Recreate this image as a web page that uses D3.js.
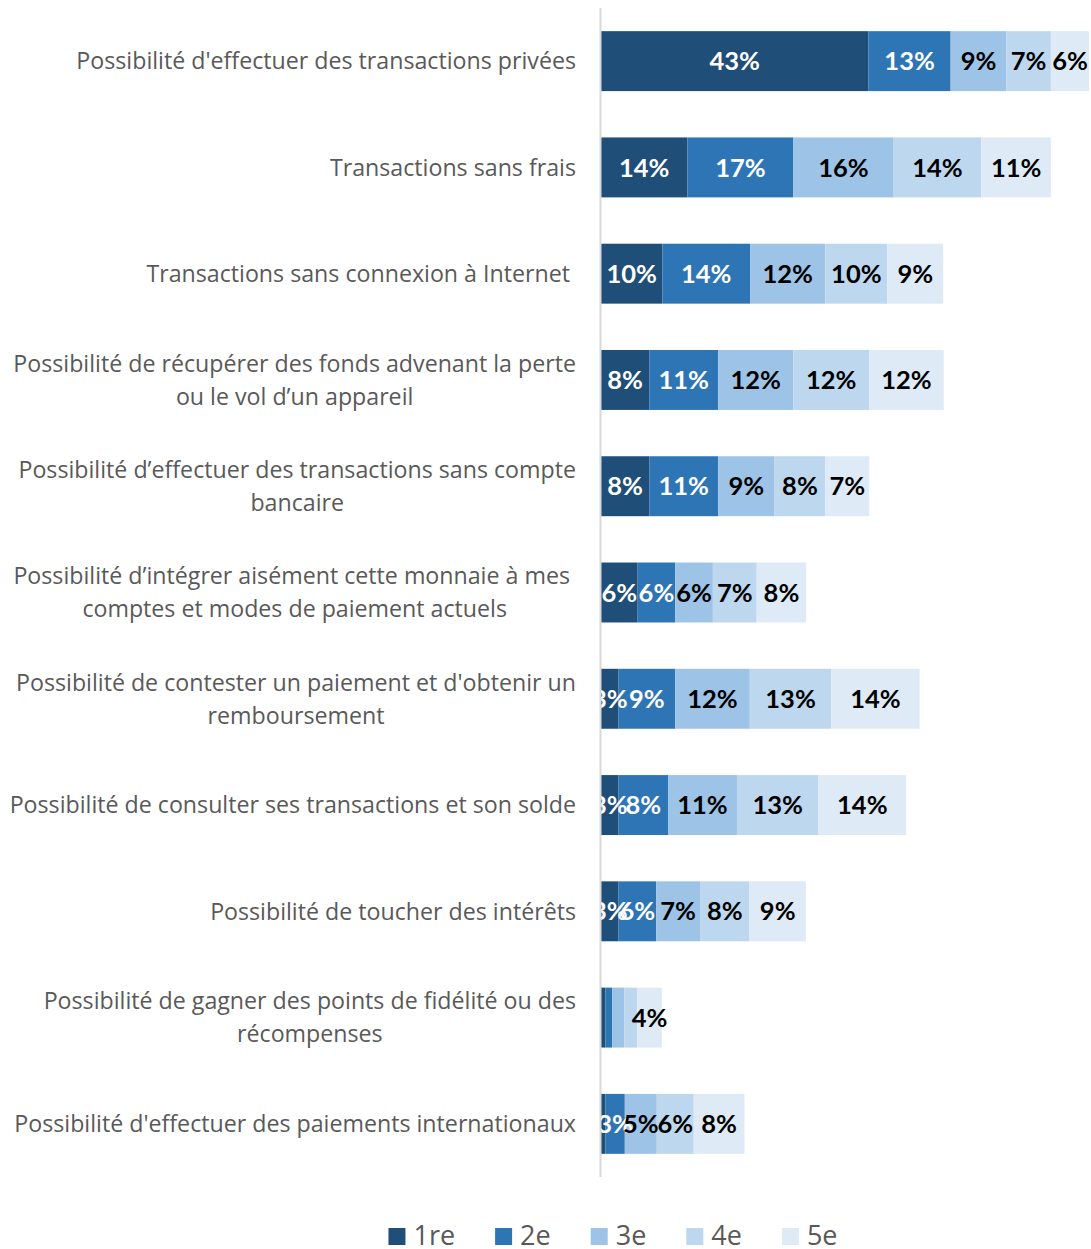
<!DOCTYPE html>
<html>
<head>
<meta charset="utf-8">
<script src="https://cdn.jsdelivr.net/npm/d3@7"></script>
<style>
  body { margin: 0; background: #fff; }
  svg { display: block; }
  text { white-space: pre; }
</style>
</head>
<body>
<div id="chart"></div>
<script>
var w = 1091;
var h = 1249;

// category labels, "\n" marks where the original wraps
var categories = [
	"Possibilité d'effectuer des transactions privées",
	"Transactions sans frais",
	"Transactions sans connexion à Internet ",
	"Possibilité de récupérer des fonds advenant la perte\nou le vol d’un appareil",
	"Possibilité d’effectuer des transactions sans compte\nbancaire",
	"Possibilité d’intégrer aisément cette monnaie à mes \ncomptes et modes de paiement actuels",
	"Possibilité de contester un paiement et d'obtenir un\nremboursement",
	"Possibilité de consulter ses transactions et son solde",
	"Possibilité de toucher des intérêts",
	"Possibilité de gagner des points de fidélité ou des\nrécompenses",
	"Possibilité d'effectuer des paiements internationaux"
];

var seriesNames = ["1re", "2e", "3e", "4e", "5e"];

// percentages
var rank1 = [42.7, 13.8, 9.8, 7.7, 7.7, 5.85, 2.8, 2.8, 2.8, 0.7, 0.7];
var rank2 = [13.1, 16.9, 14.0, 11.0, 11.0, 6.0, 9.05, 7.9, 6.0, 1.1, 3.1];
var rank3 = [8.9, 16.0, 12.0, 12.0, 9.0, 6.0, 11.9, 11.0, 7.0, 1.9, 5.1];
var rank4 = [7.1, 14.0, 9.9, 12.1, 8.1, 7.0, 13.0, 13.0, 7.9, 2.1, 5.9];
var rank5 = [6.1, 11.1, 8.9, 11.9, 7.0, 7.9, 14.1, 14.0, 9.0, 3.9, 8.1];

var colors = ["#1F4E79", "#2E75B6", "#9DC3E6", "#BDD7EE", "#DEEBF7"];
var labelColors = ["#ffffff", "#ffffff", "#000000", "#000000", "#000000"];

var table = categories.map(function(c, i) {
	return {cat: c, "1re": rank1[i], "2e": rank2[i], "3e": rank3[i], "4e": rank4[i], "5e": rank5[i]};
});

var stack = d3.stack().keys(seriesNames)(table);

var plotLeft = 601, plotRight = 1091, plotTop = 8, plotBottom = 1177;

var x = d3.scaleLinear()
	.domain([0, 78.2])
	.range([plotLeft, plotRight]);

var y = d3.scaleBand()
	.domain(categories)
	.range([plotTop, plotBottom])
	.paddingInner(0.436)
	.paddingOuter(0.218);

var fmt = d3.format(".0%");

var svg = d3.select("#chart")
	.append("svg")
	.attr("width", w)
	.attr("height", h)
	.style("font-family", "'Open Sans', sans-serif");

svg.append("defs").append("clipPath")
	.attr("id", "plotclip")
	.append("rect")
	.attr("x", plotLeft)
	.attr("y", plotTop)
	.attr("width", plotRight - plotLeft)
	.attr("height", plotBottom - plotTop);

var plot = svg.append("g").attr("clip-path", "url(#plotclip)");

var layers = plot.selectAll(".layer")
	.data(stack)
	.enter()
	.append("g")
	.attr("class", "layer")
	.style("fill", function(d, i) { return colors[i]; });

layers.selectAll("rect")
	.data(function(d) { return d; })
	.enter()
	.append("rect")
	.attr("x", function(d) { return x(d[0]); })
	.attr("y", function(d) { return y(d.data.cat); })
	.attr("width", function(d) { return x(d[1]) - x(d[0]); })
	.attr("height", y.bandwidth());

// data labels drawn above all bars
stack.forEach(function(s, si) {
	plot.append("g").selectAll("text")
		.data(s.filter(function(d) { return d[1] - d[0] >= 2.5; }))
		.enter()
		.append("text")
		.attr("x", function(d) { return (x(d[0]) + x(d[1])) / 2; })
		.attr("y", function(d) { return y(d.data.cat) + y.bandwidth() / 2; })
		.attr("dy", "0.36em")
		.attr("text-anchor", "middle")
		.style("font-family", "Lato, sans-serif")
		.style("font-size", "25.5px")
		.style("font-weight", "bold")
		.style("fill", labelColors[si])
		.text(function(d) { return fmt((d[1] - d[0]) / 100); });
});

// category axis line
svg.append("line")
	.attr("x1", plotLeft - 0.5).attr("x2", plotLeft - 0.5)
	.attr("y1", plotTop).attr("y2", plotBottom)
	.style("stroke", "#d9d9d9")
	.style("stroke-width", "2px");

// category labels: block right aligned, lines centred in the block
var lineH = 33;
categories.forEach(function(c) {
	var lines = c.split("\n");
	var t = svg.append("text")
		.attr("text-anchor", "middle")
		.style("font-size", "23.2px")
		.style("fill", "#595959");
	var cy = y(c) + y.bandwidth() / 2;
	lines.forEach(function(l, k) {
		t.append("tspan")
			.attr("y", cy + (k - (lines.length - 1) / 2) * lineH)
			.attr("dy", "0.36em")
			.text(l);
	});
	var maxW = 0;
	t.selectAll("tspan").each(function() {
		maxW = Math.max(maxW, this.getComputedTextLength());
	});
	t.selectAll("tspan").attr("x", 576 - maxW / 2);
});

// legend
var legend = svg.append("g");
var lx = 0;
seriesNames.forEach(function(s, i) {
	var g = legend.append("g").attr("transform", "translate(" + lx + ",0)");
	g.append("rect")
		.attr("x", 0).attr("y", 1228)
		.attr("width", 17).attr("height", 17)
		.style("fill", colors[i]);
	var t = g.append("text")
		.attr("x", 25).attr("y", 1245)
		.style("font-size", "27px")
		.style("fill", "#595959")
		.text(s);
	lx += 25 + t.node().getComputedTextLength() + 40;
});
var legendW = lx - 40;
legend.attr("transform", "translate(" + (613 - legendW / 2) + ",0)");
</script>
</body>
</html>
